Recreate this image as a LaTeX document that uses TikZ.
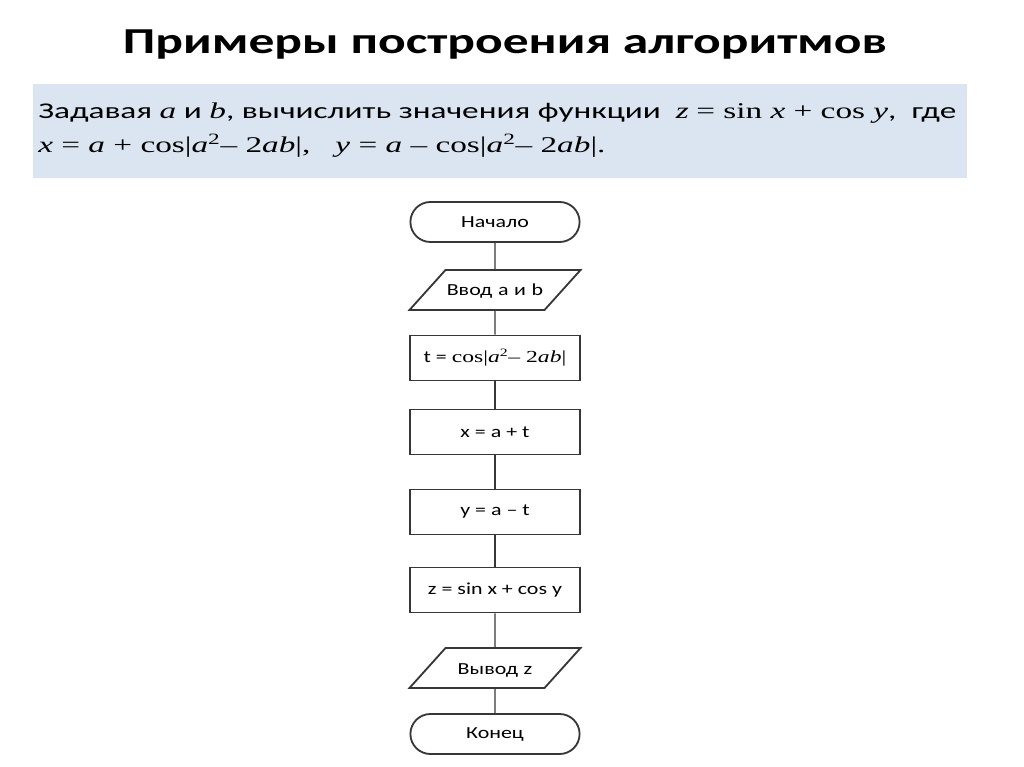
\documentclass[tikz,border=0pt]{standalone}
\usepackage{fontspec}
\setmainfont{Carlito}[FakeStretch=1.3]
\newfontfamily\tms{Liberation Serif}[FakeStretch=1.4]
\newfontfamily\headfont{Carlito}[FakeStretch=1.41]
\newfontfamily\taskfont{Carlito}[FakeStretch=1.48]
\newfontfamily\tasktms{Liberation Serif}[FakeStretch=1.48]
\usepackage{tikz}
\usetikzlibrary{positioning, shapes.geometric, shapes.misc}
\definecolor{taskblue}{RGB}{219,229,241}
\definecolor{linegray}{RGB}{55,55,55}

\begin{document}
\begin{tikzpicture}[node distance=1.9cm, on grid]
      \tikzstyle{block}=[draw=linegray, line width=1.3pt, inner sep=1pt, font=\fontsize{12}{14}\selectfont]
      \tikzstyle{term}=[block, rounded rectangle, minimum width=4.3cm, minimum height=1cm]
      \tikzstyle{io}=[block, trapezium, trapezium left angle=48, trapezium right angle=132,
                      text width=2.475cm, align=center, text height=0.35cm, text depth=0.05cm,
                      inner xsep=0pt, inner ysep=0.3cm]
      \tikzstyle{proc}=[block, rectangle, minimum width=4.25cm, minimum height=1.125cm]
      \tikzstyle{line}=[draw=linegray, line width=0.9pt]

      \useasboundingbox (0,0) rectangle (25.6,-19.175);

      % Heading and task
      \node[font=\fontsize{26}{30}\headfont\bfseries, anchor=base] (title) at (12.625,-1.35) {Примеры построения алгоритмов};
      \node[fill=taskblue, minimum width=23.35cm, minimum height=2.35cm] (task) at (12.5,-3.275) {};
      \node[font=\fontsize{16}{19}\taskfont, anchor=base west, inner sep=0pt] (line1) at (0.95,-2.975)
        {Задавая {\tasktms\itshape a} и {\tasktms\itshape b}, вычислить значения функции\ \ {\tasktms\itshape z} {\tasktms= sin \itshape x\upshape{} + cos \itshape y}, \ где};
      \node[font=\fontsize{16}{19}\tasktms, anchor=base west, inner sep=0pt] (line2) at (0.95,-3.825)
        {\itshape x\upshape{} = \itshape a\upshape{} + cos|\itshape a\upshape\textsuperscript{2}– 2\itshape ab\upshape|, \ \ \itshape y\upshape{} = \itshape a\upshape{} – cos|\itshape a\upshape\textsuperscript{2}– 2\itshape ab\upshape|.};

      % Nodes
      \node[term]  (start)  at (12.375,-5.55) {Начало};
      \node[io]    (input)  [below=1.7cm of start] {Ввод a и b};
      \node[proc]  (tcalc)  [below=1.7cm of input] {t = {\tms cos|\itshape a\upshape\textsuperscript{2}– 2\itshape ab\upshape|}};
      \node[proc]  (xcalc)  [below=1.85cm of tcalc] {x = a + t};
      \node[proc]  (ycalc)  [below=2cm of xcalc] {y = a – t};
      \node[proc]  (zcalc)  [below=1.95cm of ycalc] {z = sin x + cos y};
      \node[io]    (output) [below=1.95cm of zcalc] {Вывод z};
      \node[term]  (stop)   [below=1.65cm of output] {Конец};

      % Edges
      \path[line]
        (start) edge (input)
        (input) edge (tcalc)
        (tcalc) edge (xcalc)
        (xcalc) edge (ycalc)
        (ycalc) edge (zcalc)
        (zcalc) edge (output)
        (output) edge (stop);
    \end{tikzpicture}
\end{document}
